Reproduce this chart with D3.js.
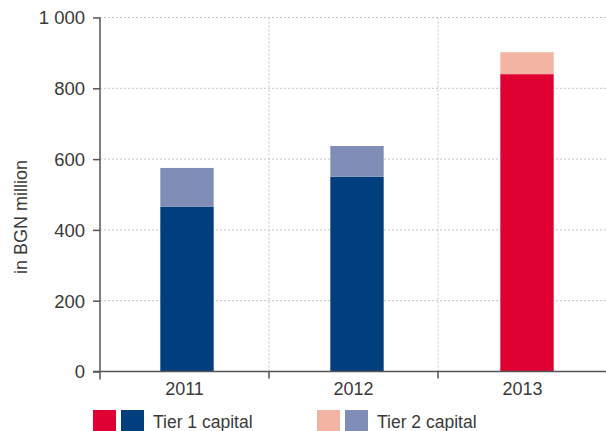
<!DOCTYPE html>
<html><head><meta charset="utf-8">
<script src="https://cdn.jsdelivr.net/npm/d3@7"></script>
<style>body{margin:0;background:#fff}svg{display:block}text{font-family:"Liberation Sans",Arial,sans-serif;fill:#3a3a3a}</style>
</head><body>
<script>
const categories = ["2011", "2012", "2013"];
const tier1 = [465, 550, 840];
const tier2 = [110, 87, 62];
const yTicks = [0, 200, 400, 600, 800, 1000];
const yTickLabels = ["0", "200", "400", "600", "800", "1 000"];
const tier1Colors = ["#003e7e", "#003e7e", "#e10032"];
const tier2Colors = ["#7f8db7", "#7f8db7", "#f4b4a4"];
const legendItems = [
  {label: "Tier 1 capital", colors: ["#e10032", "#003e7e"]},
  {label: "Tier 2 capital", colors: ["#f4b4a4", "#7f8db7"]}
];

const W = 606, H = 431;
const FONT = '"Liberation Sans",Arial,sans-serif';
const svg = d3.select("body").append("svg").attr("width", W).attr("height", H);
const x0 = 100, x1 = 607, yBottom = 371.5, yTop = 17.5;
const x = d3.scaleBand().domain(categories).range([102, 612]).paddingInner(0.686).paddingOuter(0.343);
const xb = d3.scaleBand().domain(categories).range([x0, x1]);
const y = d3.scaleLinear().domain([0, 1000]).range([yBottom, yTop]);

// horizontal gridlines
svg.append("g").selectAll("line").data(yTicks.filter(d => d > 0)).join("line")
  .attr("x1", x0).attr("x2", W).attr("y1", d => y(d)).attr("y2", d => y(d))
  .attr("stroke", "#c4c4c4").attr("stroke-width", 1).attr("stroke-dasharray", "2,2");
// vertical gridlines
svg.append("g").selectAll("line").data(categories.slice(1)).join("line")
  .attr("x1", d => xb(d)).attr("x2", d => xb(d)).attr("y1", yTop).attr("y2", yBottom)
  .attr("stroke", "#c4c4c4").attr("stroke-width", 1).attr("stroke-dasharray", "2,2");

// bars
const bars = svg.append("g");
bars.selectAll("rect.t1").data(categories).join("rect").attr("class", "t1")
  .attr("x", d => x(d)).attr("width", x.bandwidth())
  .attr("y", (d, i) => y(tier1[i])).attr("height", (d, i) => y(0) - y(tier1[i]))
  .attr("fill", (d, i) => tier1Colors[i]);
bars.selectAll("rect.t2").data(categories).join("rect").attr("class", "t2")
  .attr("x", d => x(d)).attr("width", x.bandwidth())
  .attr("y", (d, i) => y(tier1[i] + tier2[i])).attr("height", (d, i) => y(tier1[i]) - y(tier1[i] + tier2[i]))
  .attr("fill", (d, i) => tier2Colors[i]);

// y axis
const yAxis = svg.append("g").attr("transform", `translate(${x0},0)`)
  .call(d3.axisLeft(y).tickValues(yTicks).tickFormat((d, i) => yTickLabels[i]).tickSize(7).tickPadding(8));
yAxis.attr("font-size", null).attr("font-family", null);
yAxis.select(".domain").attr("d", `M0,${yTop}V${yBottom + 8}`);
yAxis.selectAll("path,line").attr("stroke", "#555").attr("stroke-width", 1.5);
yAxis.selectAll("text").attr("font-size", 18.5).attr("fill", "#3a3a3a").attr("dy", "0.35em").style("font-family", FONT);

// x axis
const xAxis = svg.append("g").attr("transform", `translate(0,${yBottom})`);
xAxis.append("line").attr("x1", x0 - 7).attr("x2", W).attr("y1", 0).attr("y2", 0).attr("stroke", "#555").attr("stroke-width", 1.5);
xAxis.selectAll("line.tk").data(categories.slice(1)).join("line").attr("class", "tk")
  .attr("x1", d => xb(d)).attr("x2", d => xb(d))
  .attr("y1", 0).attr("y2", 7).attr("stroke", "#555").attr("stroke-width", 1.5);
xAxis.selectAll("text").data(categories).join("text")
  .attr("x", d => xb(d) + xb.bandwidth() / 2).attr("y", 23).attr("text-anchor", "middle")
  .attr("font-size", 18).text(d => d);

// y label
svg.append("text").attr("transform", `translate(27,217) rotate(-90)`).attr("text-anchor", "middle")
  .attr("font-size", 18).text("in BGN million");

// legend
const lg = svg.append("g").attr("transform", "translate(93,410)");
const item = lg.selectAll("g").data(legendItems).join("g").attr("transform", (d, i) => `translate(${i * 224},0)`);
item.selectAll("rect").data(d => d.colors).join("rect")
  .attr("x", (d, i) => i * 28).attr("y", 0).attr("width", 23).attr("height", 21).attr("fill", d => d);
item.append("text").attr("x", 60).attr("y", 18).attr("font-size", 17.5).text(d => d.label);
</script>
</body></html>
